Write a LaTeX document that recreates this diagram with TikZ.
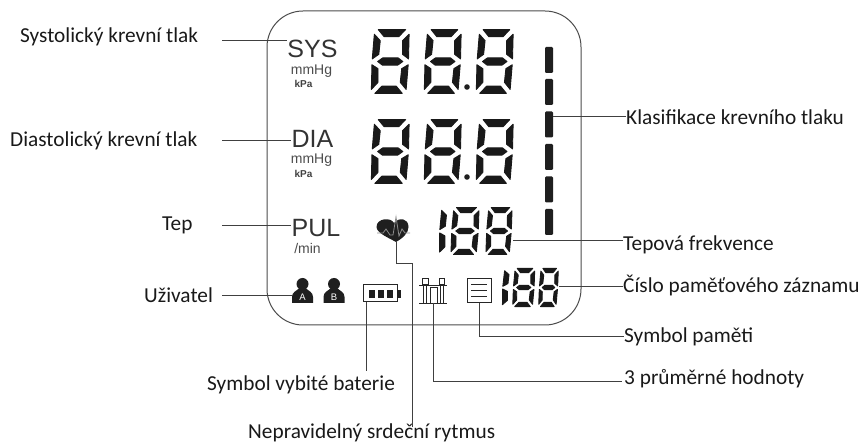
\documentclass[tikz,border=0pt]{standalone}
\usepackage{fontspec}
\setmainfont{Carlito}
\newfontfamily\lcdfont{Liberation Sans}
\tikzset{
 lbl/.style={font=\fontsize{21.3}{23}\selectfont,inner sep=0pt,text=black!90},
 conn/.style={draw=black!75,line width=1pt},
 seg/.style={fill=black!90,draw=black!90,line width=.9pt,line join=round},
 lcdbig/.style={font=\lcdfont\fontsize{25}{25}\selectfont,inner sep=0pt,text=black!80},
 lcdmid/.style={font=\lcdfont\fontsize{14}{15}\selectfont,inner sep=0pt,text=black!70},
 lcdsmall/.style={font=\lcdfont\bfseries\fontsize{10}{11}\selectfont,inner sep=0pt,text=black!75},
 ico/.style={draw=black!85,line width=1pt,fill=white},
 barseg/.style={fill=black!88,rounded corners=1.2pt,draw=none,minimum width=8pt,minimum height=26pt,inner sep=0pt},
}
% (left x, bottom y, width, height, slant)
\newcommand{\segleft}[5]{\begin{scope}[shift={(#1,#2)},x={(#3pt,0pt)},y={(#5pt,#4pt)}]
 \path[seg] (.03,.93)--(.21,.83)--(.19,.6)--(0,.53)--cycle;
 \path[seg] (0,.46)--(.19,.4)--(.21,.17)--(.03,.06)--cycle;
\end{scope}}
\newcommand{\segeight}[5]{\begin{scope}[shift={(#1,#2)},x={(#3pt,0pt)},y={(#5pt,#4pt)}]
 \path[seg] (.13,.99)--(.87,.99)--(.69,.88)--(.3,.88)--cycle;
 \path[seg] (.13,.01)--(.87,.01)--(.7,.12)--(.31,.12)--cycle;
 \path[seg] (.03,.92)--(.2,.82)--(.18,.61)--(.01,.54)--cycle;
 \path[seg] (.01,.45)--(.18,.39)--(.2,.18)--(.03,.07)--cycle;
 \path[seg] (.97,.92)--(.8,.82)--(.82,.61)--(.99,.54)--cycle;
 \path[seg] (.99,.45)--(.82,.39)--(.8,.18)--(.97,.07)--cycle;
 \path[seg] (.16,.5)--(.29,.555)--(.71,.555)--(.84,.5)--(.71,.445)--(.29,.445)--cycle;
\end{scope}}
\newcommand{\person}[3]{% center x, top y, letter
 \fill[black!88] (#1,#2+6) circle (6);
 \fill[black!88] (#1-10.5,#2+25)--(#1-10.5,#2+19) .. controls (#1-10.5,#2+14) and (#1-6,#2+13) .. (#1-3,#2+10)--(#1+3,#2+10) .. controls (#1+6,#2+13) and (#1+10.5,#2+14) .. (#1+10.5,#2+19)--(#1+10.5,#2+25)--cycle;
 \node[font=\lcdfont\fontsize{9.5}{10}\selectfont,text=white,inner sep=0pt] at (#1,#2+19) {#3};
}
\begin{document}
\begin{tikzpicture}[x=1pt,y=-1pt]
\useasboundingbox (0,0) rectangle (863,443);
% LCD frame
\node[draw=black!70,line width=1pt,rounded corners=36pt,minimum width=314pt,minimum height=314pt,inner sep=0pt] (lcd) at (424,168) {};
% SYS
\node[lcdbig] (sys) at (312.5,49) {SYS};
\node[lcdmid] (sysu) at (311.5,71.5) {mmHg};
\node[lcdsmall] (sysk) at (303.5,84) {kPa};
\node[lcdbig] (dia) at (312.5,139) {DIA};
\node[lcdmid] (diau) at (311.5,160.5) {mmHg};
\node[lcdsmall] (diak) at (303.5,174) {kPa};
\node[lcdbig] (pul) at (316,228) {PUL};
\node[lcdmid] (pulu) at (307.5,248) {/min};
% big digits
\segeight{370}{94}{37}{65}{3.5}
\segeight{423}{94}{36}{65}{3.5}
\segeight{475}{94}{36}{65}{3.5}
\fill[black!88] (467,87) circle (2.8);
\segeight{370}{184}{37}{65}{3.5}
\segeight{423}{184}{36}{65}{3.5}
\segeight{475}{184}{36}{65}{3.5}
\fill[black!88] (467,177) circle (2.8);
% classification bars
\node[barseg] (b1) at (549,60) {};
\node[barseg] (b2) at (549,92) {};
\node[barseg] (b3) at (549,124.5) {};
\node[barseg] (b4) at (549,157) {};
\node[barseg] (b5) at (549,189.5) {};
\node[barseg] (b6) at (549,222) {};
% pulse digits
\segleft{438.5}{255}{28}{48}{2.5}
\segeight{450}{255}{27}{48}{3}
\segeight{485}{255}{25}{48}{3}
\coordinate (pd) at (513,241);
% memory digits
\segleft{501.5}{307}{26}{39}{2.5}
\segeight{512}{307}{21}{39}{2.5}
\segeight{538}{307}{18.5}{39}{2.5}
\coordinate (md) at (559,287);
% heart
\coordinate (heart) at (396,241);
\fill[black!88] (396,242) .. controls (389,238) and (376.5,233) .. (376.5,227) .. controls (376.5,218) and (391,217) .. (394,223) .. controls (399,217) and (408.5,218) .. (408.5,227) .. controls (408.5,233) and (403,238) .. (396,242) -- cycle;
\draw[black!45,line width=.8pt] (377,233)--(383,233)--(386,229)--(390,235)--(393,235)--(396,217)--(399,236)--(402,229)--(405,233)--(410,233);
% persons
\person{302.5}{278}{A}
\person{334}{278}{B}
\coordinate (pa) at (293,296);
% battery
\node[ico,minimum width=34pt,minimum height=17pt,inner sep=0pt] (bat) at (380,293.5) {};
\fill[black!88] (397,290) rectangle (401,298);
\fill[black!88] (369,290) rectangle (375,298);
\fill[black!88] (378,290) rectangle (384,298);
\fill[black!88] (387,290) rectangle (393,298);
% averages icon
\coordinate (av) at (433,303);
\draw[black!85,line width=.9pt] (419,285)--(447,285) (419,303)--(447,303);
\draw[black!85,line width=1pt] (422.5,279) rectangle (428,285) (439,279) rectangle (444.5,285);
\draw[black!85,line width=1pt] (423,285)--(423,303) (426.5,285)--(426.5,303) (440,285)--(440,303) (443.5,285)--(443.5,303);
\draw[black!85,line width=1pt] (430,303)--(430,288)--(437,288)--(437,303);
% memory icon
\node[ico,minimum width=24pt,minimum height=24pt,inner sep=0pt] (mem) at (479,291) {};
\draw[black!85,line width=1pt] (471,285)--(487,285) (471,291)--(487,291) (471,297)--(487,297);
% labels
\node[lbl,anchor=west] (tsys) at (20,37) {Systolický krevní tlak};
\node[lbl,anchor=west] (tdia) at (10,141) {Diastolický krevní tlak};
\node[lbl,anchor=west] (ttep) at (162,225) {Tep};
\node[lbl,anchor=west] (tuz) at (144,295) {Uživatel};
\node[lbl,anchor=west] (tkl) at (626,117) {Klasifikace krevního tlaku};
\node[lbl,anchor=west] (ttf) at (623,245) {Tepová frekvence};
\node[lbl,anchor=west] (tcp) at (623,286) {Číslo paměťového záznamu};
\node[lbl,anchor=west] (tsp) at (624,337) {Symbol paměti};
\node[lbl,anchor=west] (t3p) at (624,379) {3 průměrné hodnoty};
\node[lbl,anchor=west] (tbat) at (207,385) {Symbol vybité baterie};
\node[lbl,anchor=west] (tnr) at (248,433) {Nepravidelný srdeční rytmus};
% connector ends
\coordinate (a1) at (222,41);
\coordinate (a2) at (222,141);
\coordinate (a3) at (222,226);
\coordinate (a4) at (222,296);
\coordinate (batl) at (366,302);
\coordinate (bate) at (366,371);
\coordinate (ave) at (622,382);
\coordinate (h1) at (396,264);
\coordinate (h2) at (412,264);
\coordinate (he) at (412,427);
\draw[conn] (a1) -- (a1 -| sys.west);
\draw[conn] (a2) -- (a2 -| dia.west);
\draw[conn] (a3) -- (a3 -| pul.west);
\draw[conn] (a4) -- (pa);
\draw[conn] (b3.east |- tkl.west) -- (tkl.west);
\draw[conn] (pd) -- (pd -| ttf.west);
\draw[conn] (md) -- (md -| tcp.west);
\draw[conn] (mem.south) |- (tsp.west);
\draw[conn] (av) |- (ave);
\draw[conn] (batl) -- (bate);
\draw[conn] (heart) -- (h1) -- (h2) -- (he);
\end{tikzpicture}
\end{document}
